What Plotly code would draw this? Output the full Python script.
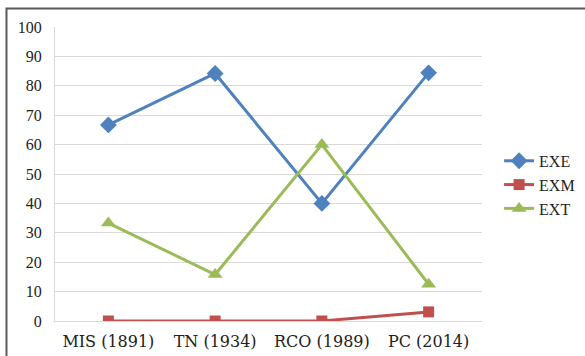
import plotly.graph_objects as go

categories = ["MIS (1891)", "TN (1934)", "RCO (1989)", "PC (2014)"]
exe = [66.7, 84.2, 40.0, 84.4]
exm = [0.0, 0.0, 0.0, 3.1]
ext = [33.3, 15.8, 60.0, 12.5]
y_ticks = [0, 10, 20, 30, 40, 50, 60, 70, 80, 90, 100]

series = [
    ("EXE", exe, "#4F81BD", "diamond", 13),
    ("EXM", exm, "#C0504D", "square", 11),
    ("EXT", ext, "#9BBB59", "triangle-up", 13),
]

fig = go.Figure()
for i, (name, vals, col, sym, sz) in enumerate(series):
    fig.add_trace(go.Scatter(
        x=categories, y=vals, name=name, mode="lines+markers",
        line=dict(color=col, width=3),
        marker=dict(symbol=sym, size=sz, color=col),
        legendgroup=f"g{i}",
    ))

serif = "Liberation Serif"
fig.update_layout(
    width=585, height=356,
    margin=dict(l=55, r=103, t=27, b=35, autoexpand=False),
    paper_bgcolor="white", plot_bgcolor="white",
    font=dict(family=serif, size=15, color="#222222"),
    showlegend=True,
    legend=dict(x=1.04, y=0.463, xanchor="left", yanchor="middle",
                font=dict(family=serif, size=16, color="#222222"),
                itemwidth=30, tracegroupgap=0, bgcolor="rgba(0,0,0,0)"),
    xaxis=dict(
        type="category", range=[-0.5, 3.5], showgrid=False, automargin=False,
        showline=True, linecolor="#d9d9d9", linewidth=1,
        tickfont=dict(family="DejaVu Serif", size=16, color="#222222"),
        ticklabelstandoff=6, ticks="",
    ),
    yaxis=dict(
        range=[0, 100], tickvals=y_ticks, showgrid=True, automargin=False,
        gridcolor="#d9d9d9", gridwidth=1, zeroline=False,
        showline=True, linecolor="#d9d9d9", linewidth=1,
        tickfont=dict(family=serif, size=16, color="#222222"),
        ticklabelstandoff=9, ticks="",
    ),
    shapes=[dict(
        type="rect", xref="paper", yref="paper",
        x0=-0.1136, x1=1.6, y0=-0.5, y1=1.0629,
        line=dict(color="#595959", width=2), fillcolor="rgba(0,0,0,0)",
        layer="above",
    )],
)

fig.write_html(
    "out.html",
    config={"displayModeBar": False},
    post_script="document.body.style.margin='0';document.body.style.padding='0';",
)
